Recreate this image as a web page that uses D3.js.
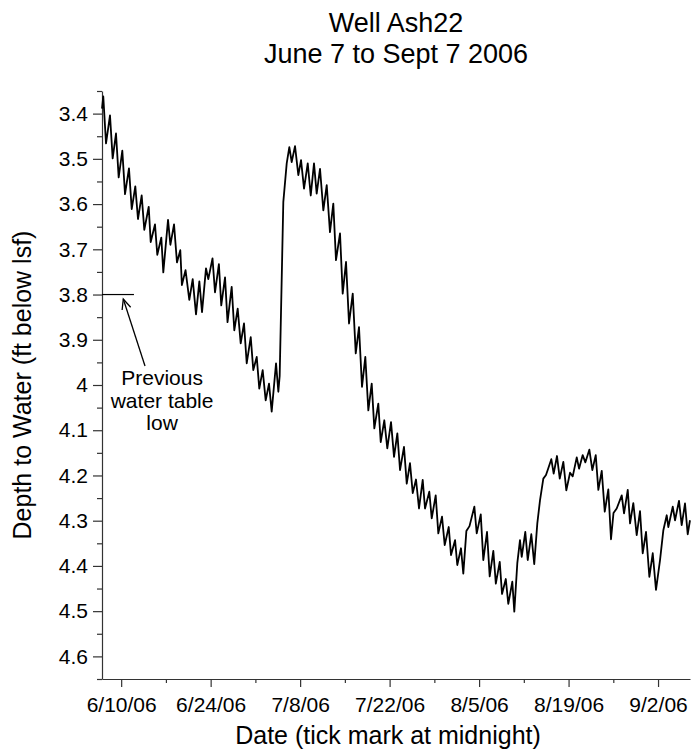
<!DOCTYPE html>
<html>
<head>
<meta charset="utf-8">
<script src="https://cdn.jsdelivr.net/npm/d3@7"></script>
<style>
  body { margin: 0; background: #fff; }
  text { font-family: "Liberation Sans", Arial, Helvetica, sans-serif; fill: #000; }
</style>
</head>
<body>
<svg id="chart" width="691" height="752"></svg>
<script>
// Logger readings: days elapsed since 2006-06-07 00:00 and depth to water (ft below land surface)
const readingDay = [
  0.00, 0.20, 0.63, 1.25, 1.67, 2.19, 2.61, 3.18, 3.60, 4.22, 4.65, 5.21, 5.63, 6.21, 6.62, 7.31,
  7.62, 8.29, 8.65, 9.28, 9.59, 10.33, 10.70, 11.27, 11.73, 12.25, 12.50, 13.07, 13.66, 14.19, 14.71, 15.23,
  15.65, 16.27, 16.63, 17.29, 17.68, 18.29, 18.66, 19.25, 19.64, 20.29, 20.70, 21.23, 21.70, 22.22, 22.64, 23.27,
  23.67, 24.21, 24.61, 25.14, 25.61, 26.13, 26.55, 27.23, 27.59, 27.80, 28.37, 28.90, 29.31, 29.68, 30.20, 30.72,
  31.14, 31.61, 32.19, 32.66, 33.17, 33.59, 34.11, 34.63, 35.16, 35.67, 36.19, 36.61, 37.24, 37.66, 38.18, 38.65,
  39.23, 39.70, 40.21, 40.68, 41.20, 41.67, 42.20, 42.61, 43.23, 43.61, 44.17, 44.64, 45.22, 45.69, 46.21, 46.63,
  47.25, 47.68, 48.19, 48.62, 49.13, 49.60, 50.18, 50.54, 51.21, 51.59, 52.21, 52.62, 53.20, 53.62, 54.25, 54.61,
  55.24, 55.59, 56.17, 56.53, 57.01, 57.50, 58.26, 58.63, 59.26, 59.66, 60.24, 60.66, 61.23, 61.62, 62.23, 62.59,
  63.18, 63.57, 64.20, 64.51, 64.98, 65.40, 65.67, 66.23, 66.61, 67.17, 67.63, 68.11, 68.53, 69.05, 69.47, 69.83,
  70.30, 70.67, 71.19, 71.62, 72.18, 72.65, 73.23, 73.65, 74.28, 74.64, 75.21, 75.63, 76.25, 76.72, 77.25, 77.66,
  78.19, 78.66, 79.22, 79.64, 80.03, 80.53, 81.32, 81.68, 82.26, 82.62, 83.13, 83.66, 84.18, 84.60, 85.12, 85.64,
  86.17, 86.68, 87.31, 87.83, 88.36, 88.61, 89.30, 89.66, 90.28, 90.70, 91.22, 91.64, 92.00
];
const depthFt = [
  3.389, 3.362, 3.466, 3.404, 3.499, 3.444, 3.541, 3.482, 3.578, 3.521, 3.611, 3.561, 3.633, 3.581, 3.657, 3.606,
  3.684, 3.645, 3.712, 3.674, 3.751, 3.635, 3.690, 3.645, 3.729, 3.702, 3.779, 3.746, 3.812, 3.766, 3.844, 3.771,
  3.839, 3.742, 3.766, 3.720, 3.795, 3.733, 3.824, 3.762, 3.861, 3.783, 3.879, 3.831, 3.908, 3.864, 3.952, 3.894,
  3.967, 3.938, 4.008, 3.967, 4.034, 3.997, 4.059, 3.952, 4.015, 3.980, 3.595, 3.510, 3.474, 3.507, 3.472, 3.536,
  3.503, 3.566, 3.510, 3.581, 3.510, 3.577, 3.522, 3.614, 3.558, 3.662, 3.599, 3.724, 3.665, 3.798, 3.728, 3.864,
  3.798, 3.930, 3.872, 4.004, 3.938, 4.056, 3.997, 4.096, 4.041, 4.126, 4.078, 4.140, 4.082, 4.159, 4.107, 4.188,
  4.137, 4.218, 4.173, 4.239, 4.209, 4.273, 4.210, 4.273, 4.236, 4.295, 4.244, 4.328, 4.291, 4.354, 4.314, 4.376,
  4.343, 4.398, 4.361, 4.417, 4.323, 4.312, 4.269, 4.328, 4.286, 4.387, 4.325, 4.423, 4.367, 4.439, 4.391, 4.462,
  4.429, 4.484, 4.435, 4.501, 4.394, 4.343, 4.380, 4.325, 4.387, 4.330, 4.396, 4.306, 4.255, 4.207, 4.199, 4.184,
  4.164, 4.196, 4.157, 4.207, 4.170, 4.233, 4.194, 4.202, 4.160, 4.185, 4.155, 4.171, 4.143, 4.188, 4.155, 4.232,
  4.190, 4.280, 4.231, 4.341, 4.283, 4.273, 4.244, 4.284, 4.232, 4.306, 4.261, 4.332, 4.279, 4.372, 4.325, 4.424,
  4.372, 4.453, 4.387, 4.321, 4.288, 4.314, 4.269, 4.299, 4.256, 4.310, 4.262, 4.330, 4.299
];

const periodStart = "2006-06-07";
const periodEnd = "2006-09-07";
const labelledDates = ["2006-06-10", "2006-06-24", "2006-07-08", "2006-07-22", "2006-08-05", "2006-08-19", "2006-09-02"];
const weekDates = ["2006-06-17", "2006-07-01", "2006-07-15", "2006-07-29", "2006-08-12", "2006-08-26"];
const depthTicks = [3.4, 3.5, 3.6, 3.7, 3.8, 3.9, 4.0, 4.1, 4.2, 4.3, 4.4, 4.5, 4.6];
const depthHalfTicks = [3.35, 3.45, 3.55, 3.65, 3.75, 3.85, 3.95, 4.05, 4.15, 4.25, 4.35, 4.45, 4.55, 4.65];
const depthDomain = [3.35, 4.65];
const previousLowDepth = 3.8;
const previousLowDays = 5;
const noteLines = ["Previous", "water table", "low"];
const titleLines = ["Well Ash22", "June 7 to Sept 7 2006"];
const xTitle = "Date (tick mark at midnight)";
const yTitle = "Depth to Water (ft below lsf)";

const parseDay = d3.utcParse("%Y-%m-%d");
const dayMs = 864e5;
const t0 = parseDay(periodStart);
const atDay = d => new Date(t0.getTime() + d * dayMs);
const readings = readingDay.map((d, i) => ({ date: atDay(d), depth: depthFt[i] }));

const W = 691, H = 752;
const margin = { top: 91, right: 1, bottom: 73, left: 102 };
const svg = d3.select("#chart");

const x = d3.scaleUtc()
  .domain([t0, parseDay(periodEnd)])
  .range([margin.left, W - margin.right]);
const y = d3.scaleLinear()
  .domain(depthDomain)
  .range([margin.top, H - margin.bottom]);

const axisColor = "#333";
const fmtDate = d3.utcFormat("%-m/%-d/%y");

// Y axis: labelled tenths with short half-tenth ticks between
svg.append("g")
  .attr("transform", `translate(${margin.left},0)`)
  .call(d3.axisLeft(y).tickValues(depthTicks).tickSize(9).tickSizeOuter(0).tickPadding(5)
    .tickFormat(d => String(+d.toFixed(1))));
const yMinor = svg.append("g")
  .attr("transform", `translate(${margin.left},0)`)
  .call(d3.axisLeft(y).tickValues(depthHalfTicks).tickSize(5).tickFormat(""));
yMinor.select(".domain").remove();

// X axis: labelled every two weeks, plain ticks on the weeks between
svg.append("g")
  .attr("transform", `translate(0,${H - margin.bottom})`)
  .call(d3.axisBottom(x).tickValues(labelledDates.map(parseDay)).tickSize(8).tickSizeOuter(0).tickPadding(10)
    .tickFormat(fmtDate));
const xMinor = svg.append("g")
  .attr("transform", `translate(0,${H - margin.bottom})`)
  .call(d3.axisBottom(x).tickValues(weekDates.map(parseDay)).tickSize(4).tickFormat(""));
xMinor.select(".domain").remove();

svg.selectAll(".domain, .tick line").attr("stroke", axisColor).attr("stroke-width", 1.2);
svg.selectAll(".tick text").attr("font-size", 21).attr("fill", "#000")
  .style("font-family", '"Liberation Sans", Arial, sans-serif');

// Water level trace
svg.append("path")
  .datum(readings)
  .attr("fill", "none")
  .attr("stroke", "#000")
  .attr("stroke-width", 1.8)
  .attr("stroke-linejoin", "round")
  .attr("d", d3.line().x(d => x(d.date)).y(d => y(d.depth)));

// Previous water table low marker
svg.append("line")
  .attr("x1", x(t0)).attr("x2", x(atDay(previousLowDays)))
  .attr("y1", y(previousLowDepth)).attr("y2", y(previousLowDepth))
  .attr("stroke", "#000").attr("stroke-width", 1.2);

// Arrow from the note up to the marker
const tip = [x(atDay(3.33)), y(3.81)];
const tail = [x(atDay(6.73)), y(3.958)];
const ang = Math.atan2(tip[1] - tail[1], tip[0] - tail[0]);
const headLen = 11, spread = 0.42;
svg.append("line")
  .attr("x1", tail[0]).attr("y1", tail[1]).attr("x2", tip[0]).attr("y2", tip[1])
  .attr("stroke", "#000").attr("stroke-width", 1.3);
svg.append("path")
  .attr("d", d3.line()([
    [tip[0] - headLen * Math.cos(ang - spread), tip[1] - headLen * Math.sin(ang - spread)],
    tip,
    [tip[0] - headLen * Math.cos(ang + spread), tip[1] - headLen * Math.sin(ang + spread)]
  ]))
  .attr("fill", "none").attr("stroke", "#000").attr("stroke-width", 1.3);

svg.append("g").selectAll("text")
  .data(noteLines)
  .join("text")
  .attr("x", x(atDay(9.4)))
  .attr("y", (d, i) => y(4.0) + i * 22.5)
  .attr("text-anchor", "middle")
  .attr("font-size", 21)
  .text(d => d);

// Titles
svg.append("g").selectAll("text")
  .data(titleLines)
  .join("text")
  .attr("x", (margin.left + W - margin.right) / 2)
  .attr("y", (d, i) => 32 + i * 31)
  .attr("text-anchor", "middle")
  .attr("font-size", 27)
  .text(d => d);

svg.append("text")
  .attr("x", 388)
  .attr("y", 744)
  .attr("text-anchor", "middle")
  .attr("font-size", 25)
  .text(xTitle);

svg.append("text")
  .attr("transform", `translate(31,${(margin.top + H - margin.bottom) / 2}) rotate(-90)`)
  .attr("text-anchor", "middle")
  .attr("font-size", 25)
  .text(yTitle);
</script>
</body>
</html>
